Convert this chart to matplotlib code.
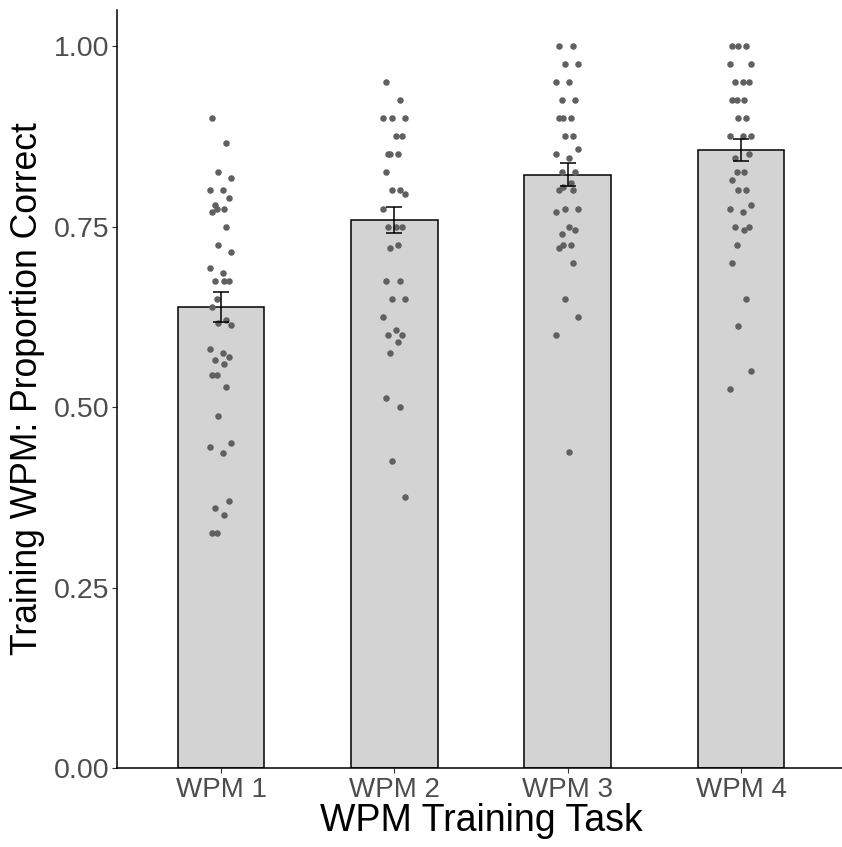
import numpy as np
import matplotlib.pyplot as plt

# proportion correct per participant for each WPM training task
tasks = ['WPM 1', 'WPM 2', 'WPM 3', 'WPM 4']

wpm1 = [0.90, 0.866, 0.825, 0.817, 0.80, 0.80, 0.79, 0.78, 0.775, 0.775, 0.77,
        0.75, 0.725, 0.715, 0.693, 0.686, 0.675, 0.675, 0.675, 0.65, 0.638,
        0.62, 0.617, 0.613, 0.58, 0.575, 0.57, 0.565, 0.56, 0.545, 0.545,
        0.528, 0.488, 0.45, 0.445, 0.437, 0.37, 0.36, 0.35, 0.325, 0.325]
wpm2 = [0.95, 0.925, 0.90, 0.90, 0.90, 0.875, 0.875, 0.85, 0.85, 0.85, 0.825,
        0.80, 0.80, 0.795, 0.775, 0.75, 0.75, 0.75, 0.725, 0.72, 0.675, 0.675,
        0.65, 0.65, 0.625, 0.607, 0.60, 0.60, 0.59, 0.575, 0.513, 0.50,
        0.425, 0.375]
wpm3 = [1.0, 1.0, 0.975, 0.975, 0.95, 0.95, 0.925, 0.925, 0.90, 0.90, 0.90,
        0.875, 0.875, 0.857, 0.85, 0.845, 0.825, 0.825, 0.81, 0.805, 0.80,
        0.80, 0.775, 0.775, 0.77, 0.75, 0.745, 0.74, 0.725, 0.725, 0.72, 0.70,
        0.65, 0.625, 0.60, 0.4375]
wpm4 = [1.0, 1.0, 1.0, 0.975, 0.975, 0.95, 0.95, 0.95, 0.925, 0.925, 0.925,
        0.90, 0.90, 0.875, 0.875, 0.875, 0.85, 0.845, 0.825, 0.825, 0.815,
        0.80, 0.80, 0.78, 0.775, 0.77, 0.75, 0.75, 0.745, 0.725, 0.70, 0.65,
        0.6125, 0.55, 0.525]

# group means and standard errors
means = [0.639, 0.759, 0.822, 0.856]
sems = [0.021, 0.018, 0.016, 0.0155]

# fixed horizontal spread for the raw points
spread = [-0.05, 0.03, -0.015, 0.06, -0.065, 0.01, 0.045, -0.035, 0.02, -0.025]

plt.rcParams['font.family'] = ['Liberation Sans', 'DejaVu Sans']

fig = plt.figure(figsize=(8.42, 8.47), dpi=100)
ax = fig.add_axes([117 / 842, 79 / 847, 728 / 842, 758 / 847])

x = np.arange(1, len(tasks) + 1)
ax.bar(x, means, width=0.5, color='#D3D3D3', edgecolor='black',
       linewidth=1.1, zorder=1)

for xi, vals in zip(x, [wpm1, wpm2, wpm3, wpm4]):
    offs = [spread[i % len(spread)] for i in range(len(vals))]
    ax.scatter(xi + np.array(offs), vals, s=22, color='#606060',
               linewidths=0, zorder=2)

ax.errorbar(x, means, yerr=sems, fmt='none', ecolor='black',
            elinewidth=1.1, capsize=6, capthick=1.1, zorder=3)

ax.set_xlim(0.4, 4.6)
ax.set_ylim(0, 1.05)
ax.set_xticks(x)
ax.set_xticklabels(tasks)
ax.set_yticks([0, 0.25, 0.5, 0.75, 1.0])
ax.set_yticklabels(['0.00', '0.25', '0.50', '0.75', '1.00'])

ax.tick_params(axis='both', labelcolor='#4D4D4D',
               color='#333333', length=3.6, width=0.8)
ax.tick_params(axis='x', labelsize=20, pad=3)
ax.tick_params(axis='y', labelsize=20.5, pad=2)

for side in ['top', 'right']:
    ax.spines[side].set_visible(False)
for side in ['left', 'bottom']:
    ax.spines[side].set_linewidth(1.1)
    ax.spines[side].set_color('black')

ax.set_xlabel('WPM Training Task', fontsize=27, color='black', labelpad=0)
ax.set_ylabel('Training WPM: Proportion Correct', fontsize=25.6,
              color='black', labelpad=6)

fig.savefig('out.png', dpi=100)
